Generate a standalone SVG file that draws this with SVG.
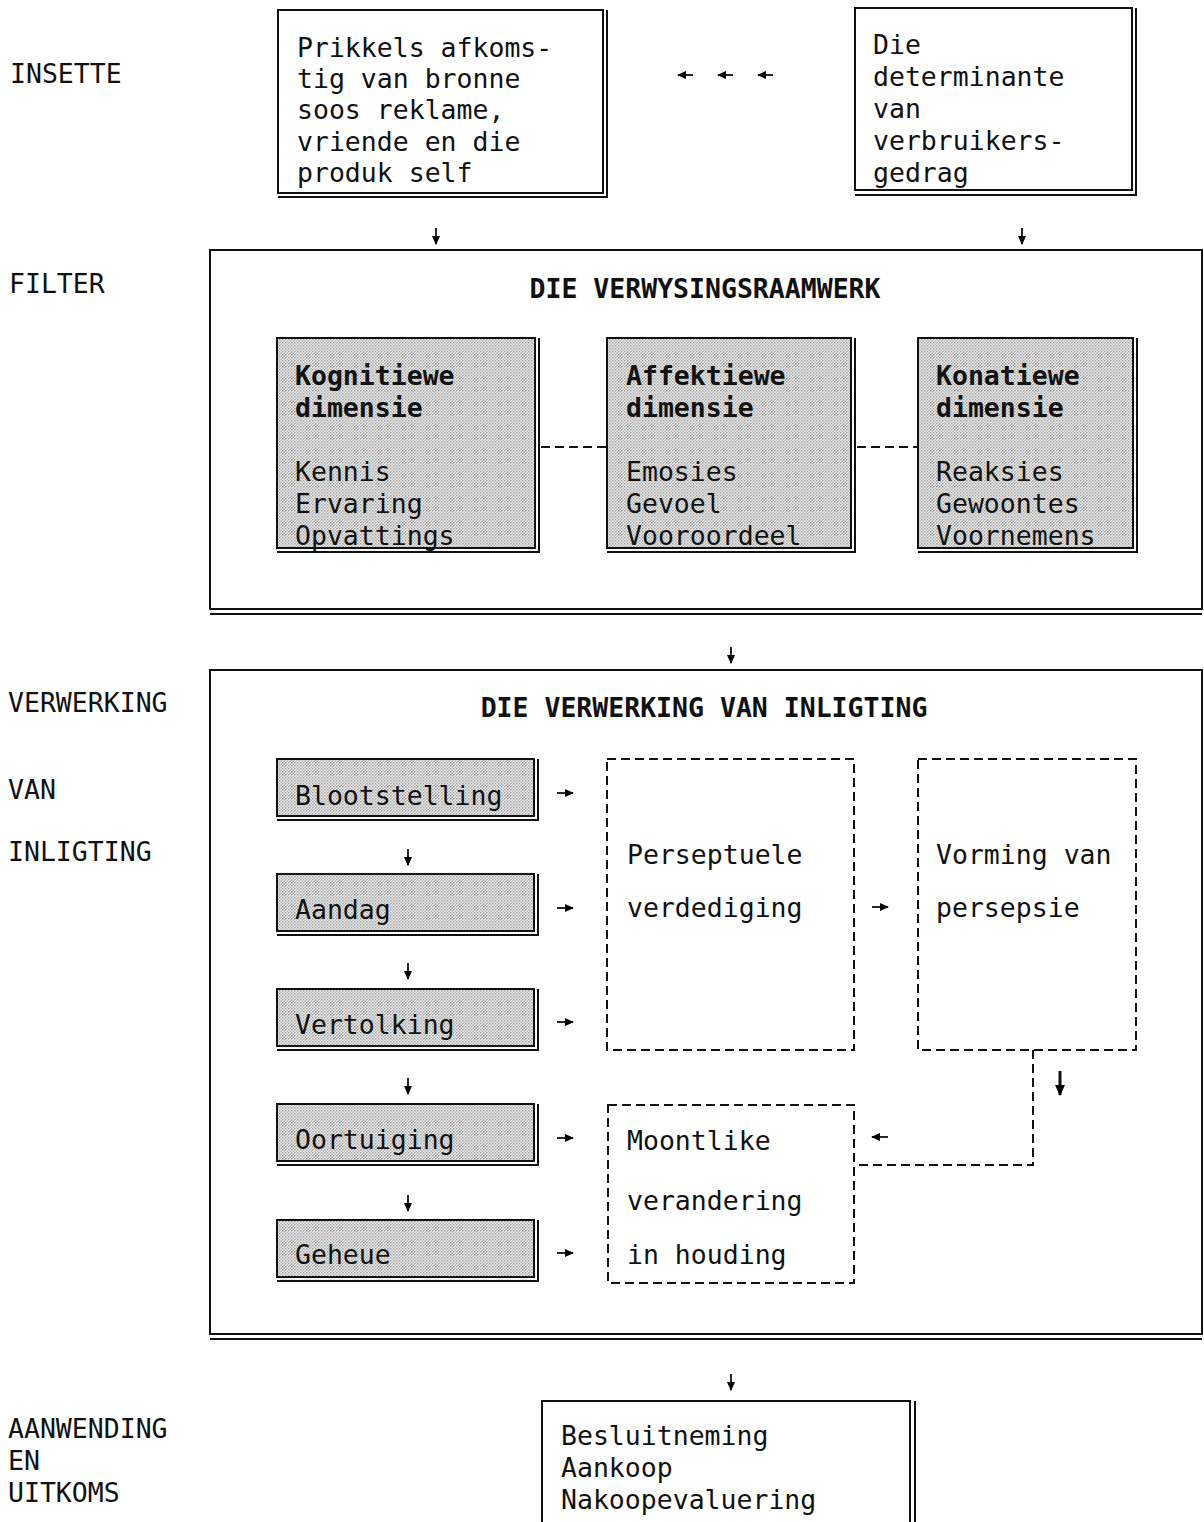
<svg xmlns="http://www.w3.org/2000/svg" width="1204" height="1522" viewBox="0 0 1204 1522">
<defs>
<pattern id="dots" width="3" height="3" patternUnits="userSpaceOnUse">
<rect width="3" height="3" fill="#ececec"/>
<rect width="1.5" height="1.5" fill="#a4a4a4"/>
<rect x="1.5" y="1.5" width="1.5" height="1.5" fill="#b8b8b8"/>
</pattern>
<marker id="ah" viewBox="0 0 10 10" refX="9" refY="5" markerWidth="9" markerHeight="9" markerUnits="userSpaceOnUse" orient="auto">
<path d="M0,0.5 L10,5 L0,9.5 Z" fill="#000"/>
</marker>
<marker id="ahb" viewBox="0 0 10 10" refX="9" refY="5" markerWidth="11" markerHeight="11" markerUnits="userSpaceOnUse" orient="auto">
<path d="M0,0.5 L10,5 L0,9.5 Z" fill="#000"/>
</marker>
</defs>
<style>
text{font-family:"DejaVu Sans Mono","Liberation Mono",monospace;font-size:26.5px;fill:#111}
.b{font-weight:bold}
.box{fill:#fff;stroke:#111;stroke-width:2}
.sh{fill:url(#dots);stroke:#111;stroke-width:2}
.sd{fill:none;stroke:#111;stroke-width:2}
.dash{fill:none;stroke:#111;stroke-width:2;stroke-dasharray:9 5}
.ar{stroke:#111;stroke-width:1.8;fill:none;marker-end:url(#ah)}
</style>
<rect width="1204" height="1522" fill="#fff"/>

<g id="labels">
<text x="10" y="83">INSETTE</text>
<text x="9" y="293">FILTER</text>
<text x="8" y="712">VERWERKING</text>
<text x="8" y="799">VAN</text>
<text x="8" y="861">INLIGTING</text>
<text x="8" y="1438">AANWENDING</text>
<text x="8" y="1470">EN</text>
<text x="8" y="1502">UITKOMS</text>
</g>

<g id="stimuli">
<rect class="box" x="278" y="10" width="325" height="183"/>
<polyline class="sd" points="607,10 607,197 278,197"/>
<text x="297" y="57">Prikkels afkoms-</text>
<text x="297" y="88">tig van bronne</text>
<text x="297" y="119">soos reklame,</text>
<text x="297" y="151">vriende en die</text>
<text x="297" y="182">produk self</text>
</g>

<g id="determinants">
<rect class="box" x="855" y="8" width="277" height="182"/>
<polyline class="sd" points="1136,8 1136,195 855,195"/>
<text x="873" y="54">Die</text>
<text x="873" y="86">determinante</text>
<text x="873" y="118">van</text>
<text x="873" y="150">verbruikers-</text>
<text x="873" y="182">gedrag</text>
</g>

<g id="filter">
<rect class="box" x="210" y="250" width="992" height="359"/>
<line class="sd" x1="210" y1="614" x2="1202" y2="614"/>
<text class="b" x="705" y="298" text-anchor="middle">DIE VERWYSINGSRAAMWERK</text>
</g>

<g id="kognitief">
<rect class="sh" x="277" y="338" width="258" height="210"/>
<polyline class="sd" points="539,338 539,552 277,552"/>
<text class="b" x="295" y="385">Kognitiewe</text>
<text class="b" x="295" y="417">dimensie</text>
<text x="295" y="481">Kennis</text>
<text x="295" y="513">Ervaring</text>
<text x="295" y="545">Opvattings</text>
</g>

<g id="affektief">
<rect class="sh" x="607" y="338" width="244" height="210"/>
<polyline class="sd" points="855,338 855,552 607,552"/>
<text class="b" x="626" y="385">Affektiewe</text>
<text class="b" x="626" y="417">dimensie</text>
<text x="626" y="481">Emosies</text>
<text x="626" y="513">Gevoel</text>
<text x="626" y="545">Vooroordeel</text>
</g>

<g id="konatief">
<rect class="sh" x="918" y="338" width="215" height="210"/>
<polyline class="sd" points="1137,338 1137,552 918,552"/>
<text class="b" x="936" y="385">Konatiewe</text>
<text class="b" x="936" y="417">dimensie</text>
<text x="936" y="481">Reaksies</text>
<text x="936" y="513">Gewoontes</text>
<text x="936" y="545">Voornemens</text>
</g>

<g id="verwerking">
<rect class="box" x="210" y="670" width="992" height="664"/>
<line class="sd" x1="210" y1="1339" x2="1202" y2="1339"/>
<text class="b" x="704" y="717" text-anchor="middle">DIE VERWERKING VAN INLIGTING</text>
</g>

<g id="blootstelling">
<rect class="sh" x="277" y="759" width="257" height="57"/>
<polyline class="sd" points="538,759 538,820 277,820"/>
<text x="295" y="805">Blootstelling</text>
</g>
<g id="aandag">
<rect class="sh" x="277" y="874" width="257" height="57"/>
<polyline class="sd" points="538,874 538,935 277,935"/>
<text x="295" y="919">Aandag</text>
</g>
<g id="vertolking">
<rect class="sh" x="277" y="989" width="257" height="57"/>
<polyline class="sd" points="538,989 538,1050 277,1050"/>
<text x="295" y="1034">Vertolking</text>
</g>
<g id="oortuiging">
<rect class="sh" x="277" y="1104" width="257" height="57"/>
<polyline class="sd" points="538,1104 538,1165 277,1165"/>
<text x="295" y="1149">Oortuiging</text>
</g>
<g id="geheue">
<rect class="sh" x="277" y="1220" width="257" height="57"/>
<polyline class="sd" points="538,1220 538,1281 277,1281"/>
<text x="295" y="1264">Geheue</text>
</g>

<g id="perseptuele">
<rect class="dash" x="607" y="759" width="247" height="291"/>
<text x="627" y="864">Perseptuele</text>
<text x="627" y="917">verdediging</text>
</g>
<g id="vorming">
<rect class="dash" x="918" y="759" width="218" height="291"/>
<text x="936" y="864">Vorming van</text>
<text x="936" y="917">persepsie</text>
</g>
<g id="moontlike">
<rect class="dash" x="608" y="1105" width="246" height="178"/>
<text x="627" y="1150">Moontlike</text>
<text x="627" y="1210">verandering</text>
<text x="627" y="1264">in houding</text>
</g>

<g id="uitkoms">
<rect class="box" x="542" y="1401" width="368" height="125"/>
<polyline class="sd" points="915,1401 915,1526"/>
<text x="561" y="1445">Besluitneming</text>
<text x="561" y="1477">Aankoop</text>
<text x="561" y="1509">Nakoopevaluering</text>
</g>

<g id="connectors">
<line class="ar" x1="693" y1="75" x2="678" y2="75"/>
<line class="ar" x1="733" y1="75" x2="718" y2="75"/>
<line class="ar" x1="773" y1="75" x2="758" y2="75"/>
<line class="ar" x1="436" y1="228" x2="436" y2="244"/>
<line class="ar" x1="1022" y1="228" x2="1022" y2="244"/>
<line class="dash" x1="541" y1="447" x2="607" y2="447"/>
<line class="dash" x1="857" y1="447" x2="918" y2="447"/>
<line class="ar" x1="731" y1="647" x2="731" y2="663"/>
<line class="ar" x1="408" y1="849" x2="408" y2="865"/>
<line class="ar" x1="408" y1="963" x2="408" y2="979"/>
<line class="ar" x1="408" y1="1078" x2="408" y2="1094"/>
<line class="ar" x1="408" y1="1195" x2="408" y2="1211"/>
<line class="ar" x1="557" y1="793" x2="573" y2="793"/>
<line class="ar" x1="557" y1="908" x2="573" y2="908"/>
<line class="ar" x1="557" y1="1022" x2="573" y2="1022"/>
<line class="ar" x1="557" y1="1138" x2="573" y2="1138"/>
<line class="ar" x1="557" y1="1253" x2="573" y2="1253"/>
<line class="ar" x1="872" y1="907" x2="888" y2="907"/>
<polyline class="dash" points="1033,1050 1033,1165 854,1165"/>
<line class="ar" x1="888" y1="1137" x2="872" y2="1137"/>
<line x1="1060" y1="1071" x2="1060" y2="1095" stroke="#111" stroke-width="3" marker-end="url(#ahb)"/>
<line class="ar" x1="731" y1="1374" x2="731" y2="1390"/>
</g>
</svg>
